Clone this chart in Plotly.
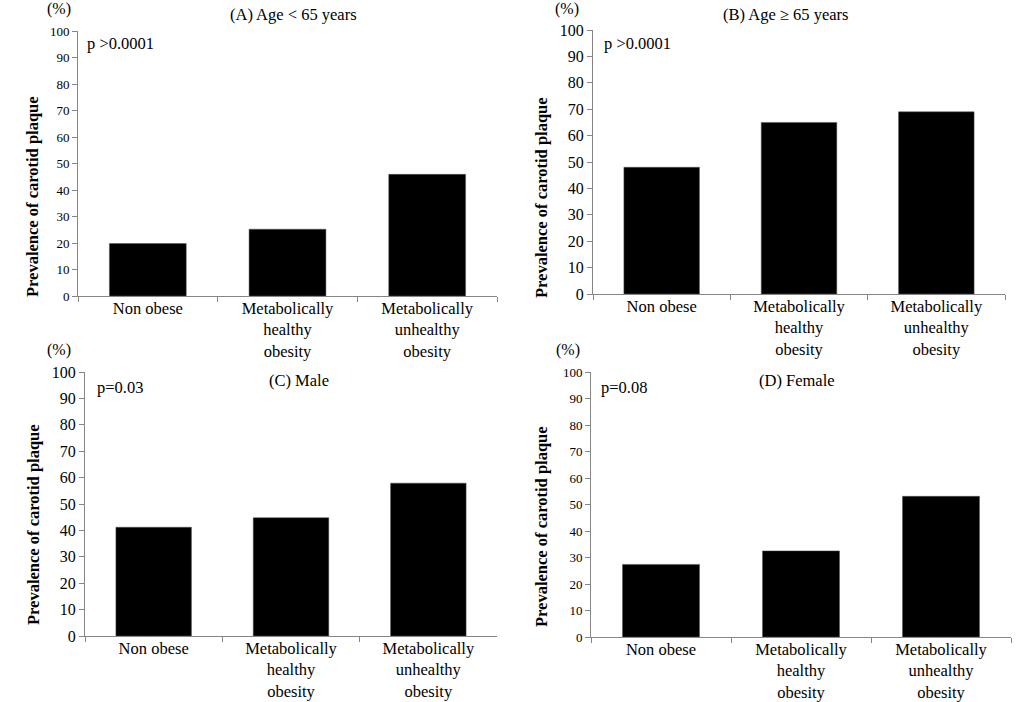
import plotly.graph_objects as go

W, H = 1025, 702

categories = ["Non obese", "Metabolically<br>healthy<br>obesity", "Metabolically<br>unhealthy<br>obesity"]
age_under65 = [19.8, 25.2, 45.9]
age_over65 = [48.0, 65.0, 69.0]
male = [41.2, 44.8, 57.9]
female = [27.4, 32.5, 53.1]
panel_titles = ["(A) Age < 65 years", "(B) Age \u2265 65 years", "(C) Male", "(D) Female"]
p_values = ["p >0.0001", "p >0.0001", "p=0.03", "p=0.08"]
y_ticks = [0, 10, 20, 30, 40, 50, 60, 70, 80, 90, 100]
y_title = "Prevalence of carotid plaque"

FONT = "Liberation Serif"
AXC = "#868686"

def px_x(v):
    return v / W

def px_y(v):
    return 1 - v / H

# panel geometry in pixels: (x0, x1, ytop(100), ybottom(0))
panels = [
    dict(x0=78, x1=497, yt=31, yb=296, tick=13, data=age_under65,
         title=(293, 14), p=(85, 43), pct=(59, 9), ytl=(33, 197)),
    dict(x0=593, x1=1005, yt=30, yb=294, tick=16, data=age_over65,
         title=(785, 14), p=(602, 43), pct=(567, 9), ytl=(541, 198)),
    dict(x0=85, x1=497, yt=372, yb=636, tick=16, data=male,
         title=(299, 381), p=(95, 387), pct=(59, 350), ytl=(33, 525)),
    dict(x0=591, x1=1011, yt=372, yb=637, tick=13, data=female,
         title=(797, 381), p=(599, 387), pct=(568, 350), ytl=(541, 527)),
]

fig = go.Figure()
annotations = []
for i, pn in enumerate(panels):
    n = "" if i == 0 else str(i + 1)
    fig.add_trace(go.Bar(
        x=categories, y=pn["data"], xaxis="x" + n, yaxis="y" + n,
        marker=dict(color="black", line=dict(color="#555555", width=0.5)),
        showlegend=False, hoverinfo="x+y",
    ))
    fig.update_layout(**{
        "xaxis" + n: dict(
            domain=[px_x(pn["x0"]), px_x(pn["x1"])],
            anchor="y" + n, type="category", automargin=False,
            showline=True, linecolor=AXC, linewidth=1,
            ticks="outside", tickson="boundaries", ticklen=5, tickcolor=AXC,
            ticklabelstandoff=-3,
            tickfont=dict(family=FONT, size=16.5, color="black"),
            showgrid=False, zeroline=False, fixedrange=True,
        ),
        "yaxis" + n: dict(
            domain=[px_y(pn["yb"]), px_y(pn["yt"])],
            anchor="x" + n, range=[0, 100], tickvals=y_ticks, automargin=False,
            showline=True, linecolor=AXC, linewidth=1,
            ticks="outside", ticklen=5, tickcolor=AXC,
            tickfont=dict(family=FONT, size=pn["tick"], color="black"),
            showgrid=False, zeroline=False, fixedrange=True,
        ),
    })
    annotations.append(dict(
        text=panel_titles[i], x=px_x(pn["title"][0]), y=px_y(pn["title"][1]),
        xref="paper", yref="paper", xanchor="center", yanchor="middle",
        showarrow=False, font=dict(family=FONT, size=16.5, color="black")))
    annotations.append(dict(
        text=p_values[i], x=px_x(pn["p"][0]), y=px_y(pn["p"][1]),
        xref="paper", yref="paper", xanchor="left", yanchor="middle",
        showarrow=False, font=dict(family=FONT, size=16.5, color="black")))
    annotations.append(dict(
        text="(%)", x=px_x(pn["pct"][0]), y=px_y(pn["pct"][1]),
        xref="paper", yref="paper", xanchor="center", yanchor="middle",
        showarrow=False, font=dict(family=FONT, size=16, color="black")))
    annotations.append(dict(
        text="<b>" + y_title + "</b>", x=px_x(pn["ytl"][0]), y=px_y(pn["ytl"][1]),
        xref="paper", yref="paper", xanchor="center", yanchor="middle",
        textangle=-90, showarrow=False,
        font=dict(family=FONT, size=16.5, color="black")))

fig.update_layout(
    template="none",
    width=W, height=H, margin=dict(l=0, r=0, t=0, b=0, pad=0, autoexpand=False),
    paper_bgcolor="white", plot_bgcolor="white",
    bargap=0.45, annotations=annotations,
    font=dict(family=FONT, color="black"),
)

fig.write_html(
    "out.html",
    config={"displayModeBar": False},
    post_script="document.body.style.margin='0';document.body.style.overflow='hidden';",
)
